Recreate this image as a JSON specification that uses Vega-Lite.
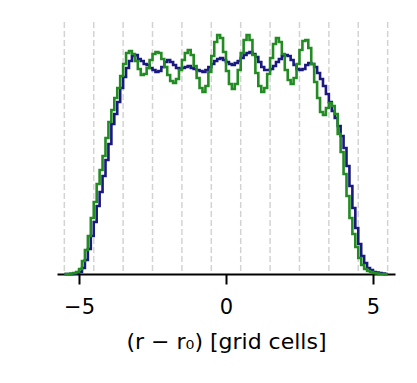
{
  "$schema": "https://vega.github.io/schema/vega-lite/v6.json",
  "width": 338,
  "height": 252,
  "autosize": {"type": "none"},
  "padding": {"left": 57, "top": 22, "right": 22, "bottom": 109},
  "config": {"view": {"stroke": null}, "font": "DejaVu Sans"},
  "layer": [
    {
      "data": {"values": [
        {"g": -5.5}, {"g": -4.5}, {"g": -3.5}, {"g": -2.5}, {"g": -1.5}, {"g": -0.5},
        {"g": 0.5}, {"g": 1.5}, {"g": 2.5}, {"g": 3.5}, {"g": 4.5}, {"g": 5.5}
      ]},
      "mark": {"type": "rule", "color": "#d3d3d3", "strokeWidth": 1.5, "strokeDash": [6, 3]},
      "encoding": {
        "x": {"field": "g", "type": "quantitative", "scale": {"domain": [-5.75, 5.75], "nice": false, "zero": false},
          "axis": {
            "values": [-5, 0, 5],
            "labelExpr": "datum.value < 0 ? '\u2212' + abs(datum.value) : datum.value",
            "title": "(r \u2212 r\u2080) [grid cells]",
            "grid": false,
            "domainColor": "#000000", "domainWidth": 2,
            "tickColor": "#000000", "tickWidth": 2, "tickSize": 10,
            "labelFont": "DejaVu Sans", "labelFontSize": 21, "labelColor": "#000000", "labelPadding": 12,
            "titleFont": "DejaVu Sans", "titleFontSize": 22, "titleFontWeight": "normal", "titleColor": "#000000", "titlePadding": 14
          }}
      }
    },
    {
      "data": {"name": "hist", "values": [
        {"u": -5.5, "a": 0, "b": 0}, {"u": -5.4, "a": 0, "b": 0}, {"u": -5.3, "a": 0, "b": 0.5},
        {"u": -5.2, "a": 0.5, "b": 1}, {"u": -5.1, "a": 1, "b": 2}, {"u": -5.0, "a": 2, "b": 5},
        {"u": -4.9, "a": 6, "b": 13}, {"u": -4.8, "a": 14, "b": 24}, {"u": -4.7, "a": 25, "b": 38},
        {"u": -4.6, "a": 38, "b": 56}, {"u": -4.5, "a": 52, "b": 72}, {"u": -4.4, "a": 68, "b": 90},
        {"u": -4.3, "a": 82, "b": 104}, {"u": -4.2, "a": 98, "b": 118}, {"u": -4.1, "a": 114, "b": 136},
        {"u": -4.0, "a": 130, "b": 152}, {"u": -3.9, "a": 150, "b": 164}, {"u": -3.8, "a": 160, "b": 176},
        {"u": -3.7, "a": 172, "b": 186}, {"u": -3.6, "a": 186, "b": 198}, {"u": -3.5, "a": 197, "b": 210},
        {"u": -3.4, "a": 206, "b": 221}, {"u": -3.3, "a": 213, "b": 223}, {"u": -3.2, "a": 218, "b": 220},
        {"u": -3.1, "a": 219, "b": 213}, {"u": -3.0, "a": 215, "b": 205}, {"u": -2.9, "a": 213, "b": 199},
        {"u": -2.8, "a": 210, "b": 200}, {"u": -2.7, "a": 209, "b": 206}, {"u": -2.6, "a": 206, "b": 214},
        {"u": -2.5, "a": 204, "b": 220}, {"u": -2.4, "a": 202, "b": 222}, {"u": -2.3, "a": 203, "b": 221},
        {"u": -2.2, "a": 207, "b": 215}, {"u": -2.1, "a": 212, "b": 207}, {"u": -2.0, "a": 214, "b": 199},
        {"u": -1.9, "a": 212, "b": 193}, {"u": -1.8, "a": 209, "b": 191}, {"u": -1.7, "a": 206, "b": 195},
        {"u": -1.6, "a": 205, "b": 204}, {"u": -1.5, "a": 206, "b": 214}, {"u": -1.4, "a": 207, "b": 221},
        {"u": -1.3, "a": 208, "b": 224}, {"u": -1.2, "a": 206, "b": 219}, {"u": -1.1, "a": 205, "b": 208},
        {"u": -1.0, "a": 204, "b": 196}, {"u": -0.9, "a": 203, "b": 186}, {"u": -0.8, "a": 202, "b": 182},
        {"u": -0.7, "a": 204, "b": 188}, {"u": -0.6, "a": 207, "b": 202}, {"u": -0.5, "a": 210, "b": 218},
        {"u": -0.4, "a": 213, "b": 232}, {"u": -0.3, "a": 215, "b": 239}, {"u": -0.2, "a": 216, "b": 236},
        {"u": -0.1, "a": 214, "b": 222}, {"u": 0.0, "a": 212, "b": 203}, {"u": 0.1, "a": 210, "b": 190},
        {"u": 0.2, "a": 209, "b": 185}, {"u": 0.3, "a": 211, "b": 190}, {"u": 0.4, "a": 213, "b": 204},
        {"u": 0.5, "a": 216, "b": 221}, {"u": 0.6, "a": 219, "b": 234}, {"u": 0.7, "a": 221, "b": 239},
        {"u": 0.8, "a": 222, "b": 234}, {"u": 0.9, "a": 220, "b": 219}, {"u": 1.0, "a": 217, "b": 201},
        {"u": 1.1, "a": 212, "b": 188}, {"u": 1.2, "a": 207, "b": 182}, {"u": 1.3, "a": 204, "b": 186},
        {"u": 1.4, "a": 204, "b": 200}, {"u": 1.5, "a": 205, "b": 216}, {"u": 1.6, "a": 208, "b": 230},
        {"u": 1.7, "a": 212, "b": 236}, {"u": 1.8, "a": 215, "b": 232}, {"u": 1.9, "a": 218, "b": 220},
        {"u": 2.0, "a": 219, "b": 204}, {"u": 2.1, "a": 218, "b": 194}, {"u": 2.2, "a": 214, "b": 190},
        {"u": 2.3, "a": 209, "b": 196}, {"u": 2.4, "a": 205, "b": 210}, {"u": 2.5, "a": 204, "b": 224},
        {"u": 2.6, "a": 205, "b": 233}, {"u": 2.7, "a": 209, "b": 234}, {"u": 2.8, "a": 211, "b": 226},
        {"u": 2.9, "a": 210, "b": 210}, {"u": 3.0, "a": 207, "b": 192}, {"u": 3.1, "a": 201, "b": 176},
        {"u": 3.2, "a": 195, "b": 162}, {"u": 3.3, "a": 188, "b": 159}, {"u": 3.4, "a": 180, "b": 166},
        {"u": 3.5, "a": 172, "b": 171}, {"u": 3.6, "a": 163, "b": 168}, {"u": 3.7, "a": 156, "b": 160},
        {"u": 3.8, "a": 148, "b": 140}, {"u": 3.9, "a": 138, "b": 122}, {"u": 4.0, "a": 126, "b": 100},
        {"u": 4.1, "a": 108, "b": 78}, {"u": 4.2, "a": 88, "b": 56}, {"u": 4.3, "a": 66, "b": 40},
        {"u": 4.4, "a": 46, "b": 27}, {"u": 4.5, "a": 30, "b": 16}, {"u": 4.6, "a": 18, "b": 9},
        {"u": 4.7, "a": 11, "b": 5}, {"u": 4.8, "a": 6, "b": 3}, {"u": 4.9, "a": 4, "b": 2},
        {"u": 5.0, "a": 2, "b": 1}, {"u": 5.1, "a": 1.5, "b": 0.5}, {"u": 5.2, "a": 1, "b": 0},
        {"u": 5.3, "a": 0.5, "b": 0}, {"u": 5.4, "a": 0, "b": 0}, {"u": 5.5, "a": 0, "b": 0}
      ]},
      "layer": [
        {
          "mark": {"type": "line", "interpolate": "step-after", "color": "#191980", "strokeWidth": 2.6},
          "encoding": {
            "x": {"field": "u", "type": "quantitative"},
            "y": {"field": "a", "type": "quantitative", "scale": {"domain": [0, 252], "nice": false}, "axis": null}
          }
        },
        {
          "mark": {"type": "line", "interpolate": "step-after", "color": "#228b22", "strokeWidth": 2.6},
          "encoding": {
            "x": {"field": "u", "type": "quantitative"},
            "y": {"field": "b", "type": "quantitative"}
          }
        }
      ]
    }
  ]
}
